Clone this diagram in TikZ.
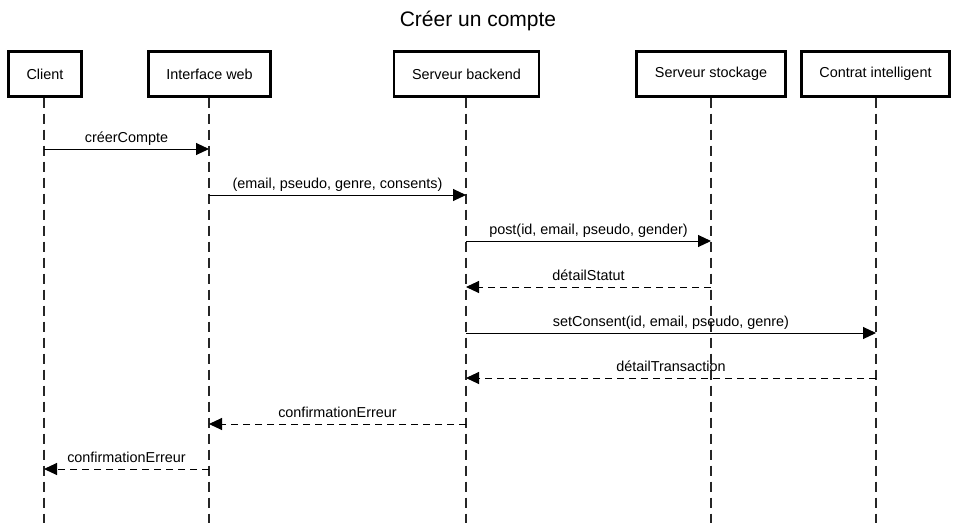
\documentclass[tikz,border=0pt]{standalone}
\usepackage{fontspec}
\setmainfont{Liberation Sans}
\usetikzlibrary{arrows.meta}
\begin{document}
\begin{tikzpicture}[x=1pt,y=-1pt,
  actor/.style={draw=black,line width=2.4pt,fill=white,minimum height=45pt,inner sep=0pt,font=\fontsize{14.4}{16}\selectfont},
  life/.style={draw=black!85,line width=1.5pt,dash pattern=on 10pt off 6pt},
  msg/.style={draw=black,line width=1pt,-{Triangle[length=13pt,width=12pt]}},
  ret/.style={msg,dash pattern=on 7pt off 5pt},
  lbl/.style={midway,anchor=base,yshift=7pt,inner sep=0pt,font=\fontsize{14.4}{16}\selectfont}]
\useasboundingbox (0,0) rectangle (957,527);
\node[anchor=base,font=\fontsize{21}{24}\selectfont] (title) at (478,27) {Créer un compte};
% actors
\node[actor,minimum width=73pt] (C) at (45,74) {Client};
\node[actor,minimum width=122pt] (W) at (209.5,74) {Interface web};
\node[actor,minimum width=145pt] (B) at (466.5,74) {Serveur backend};
\node[actor,minimum width=149pt] (S) at (711,74) {Serveur stockage};
\node[actor,minimum width=148pt] (K) at (875.5,74) {Contrat intelligent};
% lifeline ends
\coordinate (Ce) at (44,523);
\coordinate (We) at (209,523);
\coordinate (Be) at (466,523);
\coordinate (Se) at (711,523);
\coordinate (Ke) at (876,523);
\draw[life] (C.south -| Ce) -- (Ce);
\draw[life] (W.south -| We) -- (We);
\draw[life] (B.south -| Be) -- (Be);
\draw[life] (S.south -| Se) -- (Se);
\draw[life] (K.south -| Ke) -- (Ke);
% messages
\draw[msg] (Ce |- 0,149) -- node[lbl] {créerCompte} (We |- 0,149);
\draw[msg] (We |- 0,195) -- node[lbl] {(email, pseudo, genre, consents)} (Be |- 0,195);
\draw[msg] (Be |- 0,241) -- node[lbl] {post(id, email, pseudo, gender)} (Se |- 0,241);
\draw[ret] (Se |- 0,287) -- node[lbl] {détailStatut} (Be |- 0,287);
\draw[msg] (Be |- 0,333) -- node[lbl] {setConsent(id, email, pseudo, genre)} (Ke |- 0,333);
\draw[ret] (Ke |- 0,378) -- node[lbl] {détailTransaction} (Be |- 0,378);
\draw[ret] (Be |- 0,424) -- node[lbl] {confirmationErreur} (We |- 0,424);
\draw[ret] (We |- 0,469) -- node[lbl] {confirmationErreur} (Ce |- 0,469);
\end{tikzpicture}
\end{document}
